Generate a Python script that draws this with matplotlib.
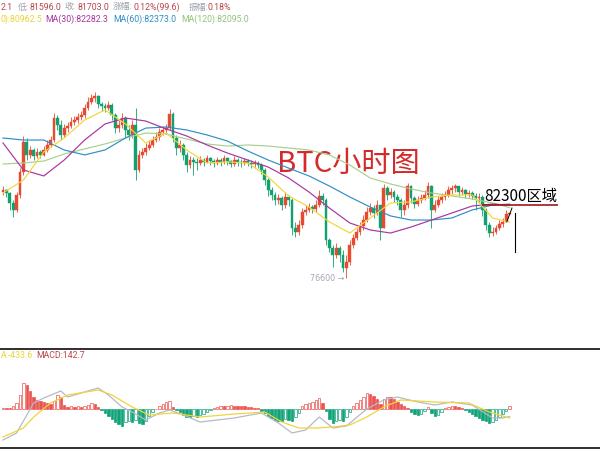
import matplotlib
matplotlib.use('Agg')
import matplotlib.pyplot as plt
import numpy as np

plt.rcParams['font.family'] = ['Roboto', 'Noto Sans CJK SC', 'DejaVu Sans']

# ---- BTC 1h candles (oldest first) ----
first_open = 83320
close = [83480, 83240, 82460, 81910, 83090, 84890, 87250, 86230, 86620, 86150,
         86460, 86230, 86620, 87010, 87400, 89130, 88580, 87800, 88340, 88500,
         88820, 88970, 89210, 89370, 89910, 90390, 90700, 90860, 90230, 90070,
         89910, 90150, 89370, 88340, 88580, 89130, 88190, 87800, 88580, 85050,
         86230, 86460, 86770, 87010, 87400, 87640, 88030, 88190, 88340, 89440,
         87560, 86770, 87010, 86230, 85440, 85830, 85680, 85600, 85830, 85680,
         85990, 85750, 85600, 85830, 85680, 85990, 85750, 85520, 85830, 85680,
         85600, 85750, 85600, 85520, 85600, 85440, 85050, 84260, 83480, 83090,
         82690, 82850, 82300, 82930, 82690, 80490, 80180, 80730, 81750, 81910,
         82140, 81990, 82300, 83010, 82690, 79550, 78920, 78380, 78920, 78380,
         77350, 77830, 79160, 79710, 80180, 80650, 81120, 81750, 82060, 81670,
         82300, 80490, 83630, 83090, 83320, 82930, 82690, 81910, 82300, 83790,
         82850, 82380, 82690, 82850, 83090, 83790, 81910, 82300, 82690, 82930,
         83090, 83480, 83630, 83790, 83320, 83480, 83160, 83240, 83010, 82850,
         82930, 81910, 80730, 80100, 80180, 80490, 80810, 80970, 81605, 81703]
high = [83790, 83560, 83320, 82690, 83320, 85200, 87720, 87560, 86930, 86770,
        86770, 86620, 86930, 87400, 87720, 89520, 89370, 88970, 88660, 88820,
        89210, 89290, 89520, 89680, 90230, 90780, 91010, 91170, 90940, 90390,
        90310, 90460, 90310, 89520, 88970, 89520, 89290, 88580, 88970, 89910,
        86620, 86770, 87170, 87400, 87720, 88030, 88340, 88500, 88660, 89840,
        89600, 87800, 87400, 87170, 86460, 86150, 86070, 85990, 86150, 85990,
        86230, 86070, 85910, 86070, 85990, 86230, 86070, 85830, 86150, 85990,
        85910, 85990, 85910, 85830, 85830, 85750, 85600, 85200, 84420, 83710,
        83320, 83160, 83010, 83320, 83090, 82850, 80970, 81120, 82060, 82300,
        82460, 82300, 82690, 83480, 83240, 82850, 79710, 79160, 79320, 79080,
        78770, 78380, 79550, 80020, 80490, 80970, 81520, 82140, 82460, 82300,
        82690, 82300, 83950, 83790, 83630, 83480, 83160, 82850, 82690, 84030,
        83870, 83010, 83010, 83160, 83480, 84110, 83870, 82690, 83010, 83240,
        83400, 83790, 83870, 83950, 83790, 83710, 83560, 83480, 83400, 83240,
        83240, 83090, 82060, 80970, 80570, 80730, 81120, 81280, 81910, 81742]
low = [83090, 82930, 81910, 81360, 81750, 82850, 84660, 85830, 85990, 85830,
       85990, 85990, 86150, 86460, 86850, 87250, 88190, 87400, 87640, 88030,
       88340, 88580, 88740, 88970, 89130, 89760, 90230, 90390, 89910, 89680,
       89600, 89760, 88970, 87950, 88030, 88340, 87560, 87400, 87560, 84260,
       84890, 85990, 86230, 86620, 86850, 87250, 87400, 87800, 87870, 88190,
       87250, 86230, 86460, 85830, 84890, 85200, 84660, 85050, 85440, 85360,
       85600, 85440, 85280, 85440, 85360, 85520, 85440, 85280, 85360, 85360,
       85280, 85440, 85360, 85200, 85280, 85200, 84730, 83870, 83010, 82690,
       82300, 82380, 81910, 82060, 82220, 79950, 79790, 79950, 80490, 81520,
       81750, 81670, 81750, 82140, 82300, 79160, 78610, 77430, 78140, 77830,
       77040, 76600, 77590, 78920, 79550, 79950, 80340, 80970, 81520, 81280,
       81520, 79550, 80490, 82690, 82850, 82540, 82300, 81360, 81520, 82060,
       82460, 82060, 82220, 82460, 82690, 82850, 80490, 81750, 82140, 82460,
       82690, 82930, 83160, 83320, 83010, 83090, 82850, 82930, 82770, 81910,
       82540, 81440, 80340, 79790, 79870, 80020, 80340, 80570, 80970, 81596]
opens = [first_open] + close[:-1]

# ---- moving averages, read at every 6th candle ----
ma_idx = [0, 6, 12, 18, 24, 30, 36, 42, 48, 54, 60, 66, 72, 78, 84, 90, 96,
          102, 108, 114, 120, 126, 132, 138, 144, 149]
ma10 = [83240, 84260, 86460, 87560, 88970, 89760, 88660, 87170, 87950, 86620,
        85600, 85680, 85600, 84500, 83010, 82140, 80970, 80100, 81280, 82460,
        82540, 82930, 83090, 83090, 81280, 80962.5]
ma30 = [87170, 85050, 84580, 85830, 87400, 88660, 89130, 88890, 88270, 87720,
        87010, 86380, 85830, 85280, 84420, 83320, 82060, 80890, 80340, 80100,
        80570, 81120, 81670, 82220, 82380, 82282.3]
ma60 = [87560, 87400, 87400, 86620, 86230, 86620, 87560, 88340, 88420, 88190,
        87800, 87320, 86540, 85830, 85200, 84580, 83790, 82930, 82140, 81440,
        81120, 81120, 81280, 81910, 82300, 82373.0]
ma120 = [85520, 85600, 85750, 86300, 86700, 87090, 87560, 87950, 87870, 87480,
         87090, 86930, 87010, 86930, 86770, 86620, 86230, 85440, 84420, 83950,
         83560, 83240, 83010, 82770, 82460, 82095.0]

# ---- MACD ----
hist = [72, 72, 72, 144, 288, 672, 1248, 1152, 864, 576,
        432, 384, 336, 288, 240, 384, 672, 576, 192, 96,
        144, 96, 144, 96, 144, 192, 288, 240, 96, -48,
        -192, -336, -480, -624, -720, -816, -624, -576, -624, -528,
        -672, -720, -576, -336, -144, 24, 144, 240, 336, 384,
        96, -24, -144, -288, -384, -384, -336, -384, -288, -240,
        -144, -48, 48, 96, 144, 144, 168, 192, 168, 144,
        144, 144, 96, 96, 72, 48, -96, -192, -336, -432,
        -528, -576, -576, -480, -528, -576, -384, -192, 144, 240,
        288, 336, 432, 528, 288, -96, -480, -672, -576, -528,
        -576, -384, -144, 144, 288, 432, 576, 768, 720, 624,
        480, 240, 480, 576, 576, 480, 336, 240, 144, 48,
        -144, -240, -288, -240, -96, 96, -192, -336, -288, -144,
        48, 96, 144, 144, 96, 48, -48, -144, -240, -336,
        -432, -528, -576, -672, -624, -528, -384, -240, -96, 142.7]
dif_idx = [0, 4, 7, 9, 12, 17, 19, 23, 28, 31, 35, 38, 42, 46, 49, 53, 58, 68,
           76, 81, 85, 89, 93, 97, 101, 107, 112, 116, 122, 127, 132, 138, 144,
           147, 149]
dif = [-1488, -1152, -288, 288, 528, 864, 576, 768, 1008, 672, 96, -144, -528,
       -192, -48, -288, -624, -432, -192, -672, -1152, -1008, -384, -912, -816,
       0, 432, 576, 336, 192, 336, 192, -432, -432, -362.3]
dea_idx = [0, 6, 9, 14, 19, 28, 32, 38, 43, 50, 58, 68, 77, 82, 87, 92, 97,
           102, 107, 112, 117, 127, 137, 143, 149]
dea = [-1344, -912, -384, 288, 672, 912, 672, 96, -288, -192, -384, -240,
       -144, -624, -912, -912, -864, -768, -384, 96, 432, 336, 288, -144,
       -433.6]

UP = '#e84a30'
DOWN = '#12a06e'
W, H = 600, 451


def rect(x0, y0, x1, y1):
    return [x0 / W, 1 - y1 / H, (x1 - x0) / W, (y1 - y0) / H]


fig = plt.figure(figsize=(6, 4.51), dpi=100)
fig.patch.set_facecolor('white')

# main price panel (78.5 per px, 82300 at y=205px)
ax = fig.add_axes(rect(0, 40, 600, 345))
ax.axis('off')
ax.set_ylim(82300 - 140 * 78.5, 82300 + 165 * 78.5)
x0, dx = 3, 3.4
ax.set_xlim(-x0 / dx, (W - x0) / dx)

n = len(close)
xs = np.arange(n)
o = np.array(opens, float)
c = np.array(close, float)
up = c >= o
cols = np.where(up, UP, DOWN)
ax.vlines(xs, low, high, colors=cols, lw=0.6, zorder=2)
body = np.maximum(np.abs(c - o), 25)
ax.bar(xs, body, bottom=np.minimum(o, c), width=0.78, color=cols,
       edgecolor=cols, lw=0.3, zorder=3)

ax.plot(ma_idx, ma120, color='#a8d08d', lw=0.85, zorder=4)
ax.plot(ma_idx, ma60, color='#2f8fc4', lw=0.85, zorder=4)
ax.plot(ma_idx, ma30, color='#a8359f', lw=0.85, zorder=4)
ax.plot(ma_idx, ma10, color='#f2d63a', lw=0.85, zorder=5)

# annotations
ax.text(100.3, 76600 - 60, '76600 \u2192', ha='right', va='center',
        fontsize=5.8, color='#a3a8b6', family=['DejaVu Sans'])
ax.text(101.5, 85520, 'BTC小时图', ha='center', va='center', fontsize=21,
        color='#d42a2a', family=['Noto Sans CJK SC', 'DejaVu Sans'])
ax.hlines(82300, 140.9, 163.2, colors='#a01818', lw=1.2, zorder=6)
ax.text(141.6, 82300 - 20, '82300区域', ha='left', va='bottom', fontsize=11,
        color='black', family=['Noto Sans CJK SC', 'DejaVu Sans'])
ax.plot([148.2, 149.7], [81000, 82060], color='black', lw=0.7, zorder=6)
ax.plot([150.6, 150.6], [81670, 78610], color='black', lw=0.8, zorder=6)

# MACD panel (48 per px, zero at y=409px)
mx = fig.add_axes(rect(0, 349, 600, 448))
mx.set_xlim(ax.get_xlim())
mx.set_ylim(-39 * 48, 60 * 48)
mx.set_xticks([])
mx.set_yticks([])
for s in ['left', 'right']:
    mx.spines[s].set_visible(False)
for s in ['top', 'bottom']:
    mx.spines[s].set_color('#1e1e1e')
    mx.spines[s].set_linewidth(1.3)

hcols = ['#ea5450' if v >= 0 else '#10a378' for v in hist]
for i, v in enumerate(hist):
    prev = hist[i - 1] if i > 0 else 0
    hollow = v > prev
    mx.bar(i, v, width=0.75, color='white' if hollow else hcols[i],
           edgecolor=hcols[i], lw=0.5, zorder=2)
mx.plot(dif_idx, dif, color='#b4bac8', lw=0.9, zorder=3)
mx.plot(dea_idx, dea, color='#f0d43c', lw=0.9, zorder=3)

# header texts (left edge of the screenshot cuts the first items)
GREY = '#9ba0ab'
RED = '#b8464a'


def ft(x, y, s, color, ha='left'):
    fig.text(x / W, 1 - y / H, s, color=color, fontsize=6.3, ha=ha, va='center')


ft(0.5, 7, '2.1', RED)
ft(18, 7, '低:', GREY)
ft(30, 7, '81596.0', RED)
ft(64, 7, '收:', GREY)
ft(77, 7, '81703.0', RED)
ft(113, 7, '涨幅:', GREY)
ft(133, 7, '0.12%(99.6)', RED)
ft(189, 7, '振幅:', GREY)
ft(208, 7, '0.18%', RED)

ft(0.5, 19.5, '0):80962.5', '#e9d43c')
ft(45, 19.5, 'MA(30):82282.3', '#a8359f')
ft(113, 19.5, 'MA(60):82373.0', '#2f8fc4')
ft(181, 19.5, 'MA(120):82095.0', '#93c27c')

ft(0.5, 356, 'A:-433.6', '#e9d43c')
ft(36, 356, 'MACD:142.7', '#b8464a')

fig.savefig('out.png', dpi=100, facecolor='white')
